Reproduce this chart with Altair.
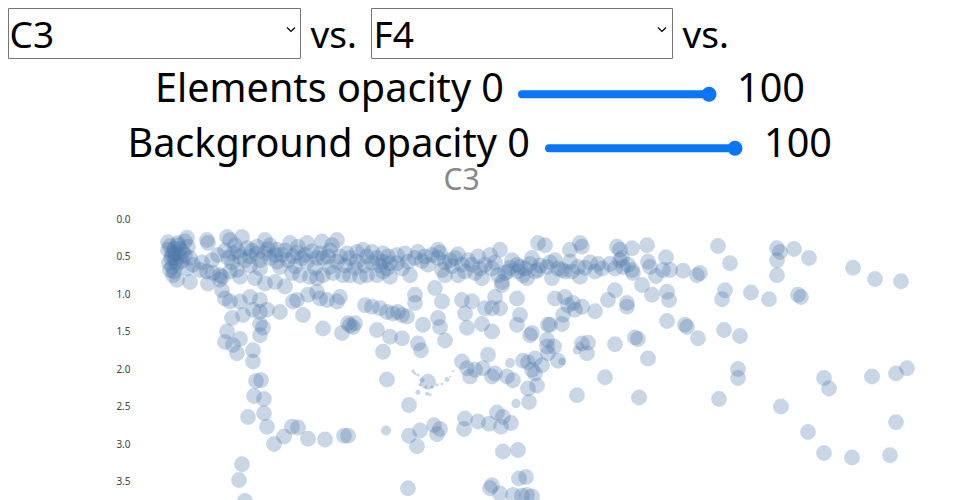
import altair as alt
import pandas as pd

FONT = "Noto Sans"

# ---------------- header controls ----------------
select_values = ["C3", "F4"]
separator = "vs."
slider_names = ["Elements opacity", "Background opacity"]
slider_min = 0
slider_max = 100
slider_values = [100, 100]
panel_title = "C3"

# ---------------- scatter (x in arbitrary units, y as on the axis) ----------
y_ticks = [0.0, 0.5, 1.0, 1.5, 2.0, 2.5, 3.0, 3.5]

band_top = [(28,0.31),(38,0.32),(47,0.25),(45,0.30),(67,0.28),(68,0.32),(87,0.24),(90,0.28),
            (102,0.24),(95,0.35),(107,0.39),(117,0.37),(125,0.28),(130,0.35),(137,0.41),(150,0.32),
            (158,0.37),(167,0.32),(182,0.30),(192,0.35),(197,0.28),(207,0.46),(217,0.44),(223,0.41),
            (232,0.44),(243,0.46),(248,0.50),(257,0.48),
            (28,0.41),(32,0.48),(35,0.57),(30,0.68),(38,0.35),(43,0.44),(48,0.37)]

band_mid = [(33,0.44),(35,0.52),(32,0.64),(40,0.50),(50,0.52),(53,0.61),(47,0.66),(60,0.68),
            (67,0.70),(73,0.72),(80,0.75),(82,0.77),(88,0.52),(93,0.46),(100,0.50),(110,0.50),
            (117,0.46),(125,0.46),(130,0.52),(137,0.57),(142,0.48),(153,0.50),(162,0.52),(167,0.57),
            (177,0.52),(183,0.52),(188,0.50),(197,0.57),(210,0.52),(217,0.57),(227,0.50),(237,0.52),
            (243,0.57),(250,0.59),(257,0.59),
            (33,0.75),(37,0.81),(50,0.84),(68,0.86),(80,0.81),(90,0.70),(97,0.68),(100,0.77),
            (115,0.79),(125,0.86),(135,0.84),(145,0.90),(152,0.72),(160,0.75),(170,0.77),(177,0.79),
            (183,0.75),(193,0.72),(203,0.75),(210,0.75),(220,0.77),(227,0.75),(237,0.75),(243,0.70),
            (250,0.77)]

band_core = [(30,0.36),(34,0.40),(36,0.46),(31,0.52),(37,0.60),(34,0.70),(42,0.56),(40,0.40),
             (45,0.48),(29,0.58),(62,0.58),(72,0.55),(78,0.48),(85,0.42),(92,0.58),(98,0.43),
             (105,0.55),(112,0.42),(120,0.55),(128,0.40),(135,0.48),(145,0.42),(148,0.55),(157,0.45),
             (165,0.48),(172,0.43),(180,0.46),(190,0.42),(200,0.50),(205,0.62),(215,0.65),(225,0.62),
             (232,0.58),(240,0.62),(247,0.66),(110,0.62),(120,0.66),(140,0.64),(155,0.63),(175,0.65),
             (190,0.64),(275,0.52),(282,0.56),(292,0.48),(305,0.58),(312,0.63),(328,0.55),(340,0.66),
             (355,0.58),(370,0.65),(378,0.70),(385,0.66),(390,0.60),(400,0.62),(410,0.58),(418,0.66),
             (432,0.70),(445,0.65),(458,0.60),(475,0.66)]

band_right = [(265,0.46),(268,0.57),(262,0.66),(270,0.75),(278,0.44),(285,0.50),(288,0.61),(298,0.41),
              (298,0.52),(302,0.68),(305,0.75),(310,0.55),(315,0.52),(322,0.61),(318,0.75),(325,0.70),
              (332,0.61),(335,0.72),(342,0.79),(345,0.61),(352,0.66),(358,0.75),(362,0.84),(365,0.72),
              (368,0.70),(377,0.61),(383,0.75),(387,0.79),(395,0.70),(398,0.68),(407,0.64),(412,0.79),
              (422,0.68),(425,0.70),(438,0.64),(440,0.77),(455,0.70),(462,0.66),
              (300,0.45),(318,0.47),(338,0.50),(350,0.48),(372,0.55),(392,0.52),(415,0.55),(430,0.57),
              (450,0.58),(470,0.60),(380,0.64),(480,0.55),(483,0.64),(493,0.72)]

upper_right = [(360,0.41),(398,0.32),(405,0.35),(430,0.41),(440,0.32),(442,0.37),(477,0.37),(480,0.41),
               (482,0.52),(492,0.39),(488,0.61),(492,0.68),(507,0.35),(508,0.57),(502,0.88),(512,1.01),
               (578,0.36),(590,0.59),(637,0.39),(640,0.44),(637,0.55),(637,0.75),(654,0.40),(669,0.52),
               (713,0.65),(735,0.80),(761,0.83),(526,0.51),(510,0.64),(523,0.68),(530,0.68),(516,0.76),
               (543,0.69),(557,0.75),(560,0.72),(527,0.97),(529,1.08),(585,0.95),(582,1.07),(611,0.98),
               (629,1.07),(658,1.01),(661,1.04)]

middle = [(82,0.95),(85,1.06),(90,1.10),(100,1.10),(110,1.04),(120,1.08),(113,1.21),(120,1.24),
          (127,1.21),(140,1.24),(153,1.10),(157,1.08),(163,1.28),(168,1.01),(177,0.97),(180,1.06),
          (187,1.08),(197,1.10),(200,1.04),(225,1.15),(232,1.17),(240,1.19),(247,1.24),(253,1.26),
          (258,1.24),(275,1.01),(275,1.12),(295,0.92),(302,1.10),(322,1.08),(332,1.10),(325,1.26),
          (345,1.19),(352,1.19),(355,1.04),(360,1.19),(362,0.88),(377,1.06),(415,1.06),(425,1.04),
          (428,1.15),(435,1.21),(442,1.17),(455,1.23),(468,1.08),(475,0.95),(487,1.12),(423,1.28),
          (262,1.28),(267,1.30),(433,1.12),(487,1.17),(422,1.40),(410,1.41),(380,1.28),(392,1.52)]

lower = [(92,1.32),(103,1.28),(120,1.40),(123,1.45),(87,1.50),(85,1.64),(93,1.68),(100,1.60),
         (97,1.79),(113,1.75),(113,1.90),(120,1.55),(183,1.46),(202,1.52),(208,1.39),(215,1.39),
         (210,1.42),(213,1.44),(237,1.48),(250,1.57),(243,1.77),(247,2.14),
         (283,1.41),(298,1.32),(300,1.44),(305,1.62),(327,1.45),(342,1.40),(352,1.50),(377,1.41),
         (390,1.55),(408,1.41),(407,1.61),(442,1.66),(448,1.65),(447,1.79),(475,1.67),(495,1.58),
         (498,1.60),(262,1.59),(278,1.66),(281,1.75),(348,1.81),(322,1.90),
         (527,1.36),(545,1.41),(547,1.44),(558,1.59),(584,1.48),(600,1.56)]

streak = [(330,2.10),(327,1.99),(335,2.01),(343,1.99),(352,2.10),(355,2.06),(367,2.10),(373,2.15),
          (383,1.89),(388,1.91),(392,2.01),(395,1.86),(402,1.95),(408,1.79),(414,1.70),(418,1.89),
          (407,1.70),(395,2.06),(397,2.22),(388,2.26),(389,2.44),(508,1.86),(465,2.11),(437,2.35),
          (499,2.38),(288,2.17),(598,2.00),(598,2.12),(579,2.40),(641,2.50),(684,2.12),(689,2.26),
          (732,2.10),(756,2.06),(767,1.99)]

bottom = [(116,2.16),(121,2.15),(114,2.36),(124,2.40),(124,2.59),(108,2.64),(127,2.77),(152,2.77),
          (158,2.78),(144,2.90),(134,3.00),(168,2.93),(185,2.94),(204,2.89),(208,2.89),(102,3.27),
          (99,3.48),(105,3.76),(269,2.48),(325,2.66),(324,2.80),(338,2.70),(349,2.73),(357,2.58),
          (363,2.64),(361,2.77),(371,2.72),(294,2.75),(280,2.82),(269,2.89),(277,3.03),(297,2.87),
          (300,2.80),(363,3.10),(378,3.08),(379,3.46),(386,3.44),(350,3.59),(352,3.55),(360,3.66),
          (373,3.68),(382,3.69),(387,3.68),(392,3.70),(268,3.59),
          (668,2.84),(684,3.12),(712,3.18),(756,2.71),(750,3.15)]

# points with a smaller weight (x, y, weight)
small = [(273,2.03,0.05),(275,2.06,0.04),(278,2.08,0.04),(282,2.15,0.10),(280,2.21,0.05),
         (286,2.24,0.04),(292,2.24,0.04),(287,2.33,0.06),(290,2.34,0.04),(297,2.21,0.04),
         (302,2.20,0.03),(307,2.14,0.10),(310,2.10,0.02),(313,2.03,0.02),(278,2.31,0.10),
         (376,2.46,0.35),(370,1.92,0.40),(437,1.75,0.28),(246,2.82,0.40),(422,1.90,0.22),
         (440,1.69,0.30)]

rows = []
for group in [band_top, band_mid, band_core, band_right, upper_right, middle, lower, streak, bottom]:
    for px, py in group:
        rows.append({"x": px, "y": py, "w": 1.0})
for px, py, pw in small:
    rows.append({"x": px, "y": py, "w": pw})
points = pd.DataFrame(rows)

scatter = alt.Chart(points).mark_circle(color="#4c78a8", opacity=0.3).encode(
    x=alt.X("x:Q", scale=alt.Scale(domain=[0, 770], range=[132, 902], nice=False, zero=False), axis=None),
    y=alt.Y("y:Q", scale=alt.Scale(domain=[0, 4], range=[211, 511], nice=False),
            axis=alt.Axis(values=y_ticks, format=".1f", title=None, domain=False, ticks=False,
                          tickSize=0, grid=False, labelPadding=2, offset=-124,
                          labelFontSize=10, labelColor="#444", labelFont=FONT)),
    size=alt.Size("w:Q", scale=alt.Scale(domain=[0, 1], range=[0, 250]), legend=None),
)

# ---------------- header drawing ----------------
one = pd.DataFrame({"k": [0]})
base = alt.Chart(one)


def text(t, x, y, size, color="black", align="left"):
    return base.mark_text(text=t, font=FONT, fontSize=size, color=color, align=align,
                          baseline="alphabetic").encode(x=alt.value(x), y=alt.value(y))


def box(x0, x1):
    return base.mark_rect(fill="white", stroke="#767676", strokeWidth=1).encode(
        x=alt.value(x0), x2=alt.value(x1), y=alt.value(0.5), y2=alt.value(50.5))


def chevron(x):
    return base.mark_point(shape="M-1,-0.5L0,0.5L1,-0.5", filled=False, stroke="black",
                           strokeWidth=1.2, size=64, opacity=1).encode(
        x=alt.value(x), y=alt.value(21.5))


ACCENT = "#0a75f5"


def slider(x0, x1, y, value):
    thumb = x0 + (value - slider_min) / (slider_max - slider_min) * (x1 - x0)
    track = base.mark_rule(color=ACCENT, strokeWidth=8, strokeCap="round").encode(
        x=alt.value(x0), x2=alt.value(thumb), y=alt.value(y))
    knob = base.mark_circle(color=ACCENT, opacity=1, size=225).encode(
        x=alt.value(thumb), y=alt.value(y))
    return [track, knob]


header = [
    box(0.5, 292.5), text(select_values[0], 1.5, 39.5, 37), chevron(283),
    text(separator, 302.5, 39.5, 37),
    box(363.5, 664.5), text(select_values[1], 365.5, 39.5, 37), chevron(654),
    text(separator, 674.5, 39.5, 37),
    text(f"{slider_names[0]} {slider_min}", 496, 94, 39.6, align="right"),
    *slider(514, 701, 86.3, slider_values[0]),
    text(str(slider_max), 797, 94, 39.6, align="right"),
    text(f"{slider_names[1]} {slider_min}", 522, 148.5, 39.6, align="right"),
    *slider(541, 727, 140.3, slider_values[1]),
    text(str(slider_max), 824, 148.5, 39.6, align="right"),
    text(panel_title, 453.5, 182, 30, color="#888", align="center"),
]

chart = alt.layer(scatter, *header).properties(
    width=944, height=492, padding=0, autosize=alt.AutoSizeParams(type="none")
).configure_view(strokeWidth=0)

chart.save("out.html", embed_options={"renderer": "svg", "actions": False})
